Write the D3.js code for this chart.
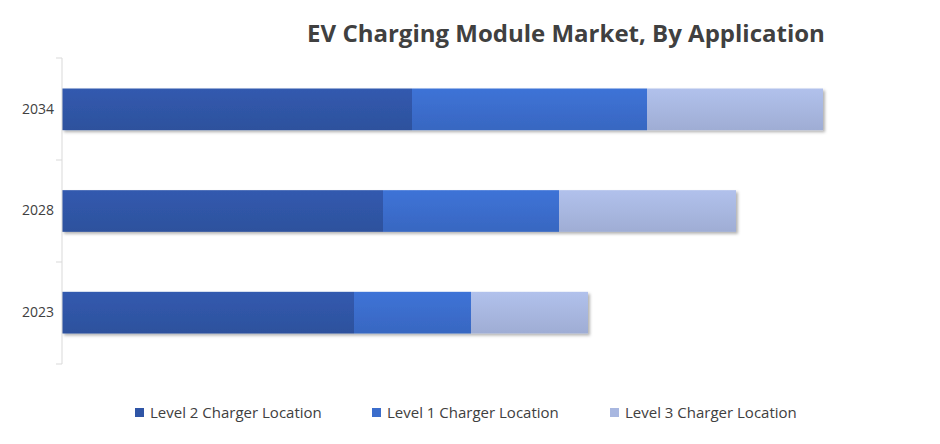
<!DOCTYPE html>
<html><head><meta charset="utf-8">
<script src="https://cdn.jsdelivr.net/npm/d3@7"></script>
<style>body{margin:0;background:#fff}</style>
</head><body>
<svg id="c" width="940" height="444"></svg>
<script>
const categories = ["2034", "2028", "2023"];
const seriesNames = ["Level 2 Charger Location", "Level 1 Charger Location", "Level 3 Charger Location"];
const level2 = [350, 321, 292];
const level1 = [235, 176, 117];
const level3 = [176, 177, 117];
const colors = ["#2f55a6", "#3b6dcc", "#a8b7e0"];

const svg = d3.select("#c");
const defs = svg.append("defs");
const f = defs.append("filter").attr("id","sh").attr("x","-5%").attr("y","-20%").attr("width","110%").attr("height","150%");
f.append("feDropShadow").attr("dx",2).attr("dy",2).attr("stdDeviation",1.5).attr("flood-color","#000").attr("flood-opacity",0.3);
colors.forEach((c,i)=>{
  const g = defs.append("linearGradient").attr("id","g"+i).attr("x1",0).attr("y1",0).attr("x2",0).attr("y2",1);
  g.append("stop").attr("offset","0%").attr("stop-color",d3.color(c).brighter(0.15));
  g.append("stop").attr("offset","100%").attr("stop-color",d3.color(c).darker(0.15));
});

const x = d3.scaleLinear().domain([0, 880]).range([62, 942]);
const y = d3.scaleBand().domain(categories).range([58, 364]).paddingInner(0.59).paddingOuter(0.3);

svg.append("text").attr("x",566).attr("y",42).attr("text-anchor","middle")
  .attr("font-family","Open Sans, sans-serif").attr("font-weight","bold").attr("font-size",24)
  .attr("fill","#404040").text("EV Charging Module Market, By Application");

const data = categories.map((c,i)=>({cat:c, v:[level2[i], level1[i], level3[i]]}));
data.forEach(d=>{
  const g = svg.append("g").attr("filter","url(#sh)");
  let acc = 0;
  d.v.forEach((v,j)=>{
    g.append("rect").attr("x",x(acc)).attr("width",x(acc+v)-x(acc))
      .attr("y",y(d.cat)).attr("height",y.bandwidth()).attr("fill",`url(#g${j})`);
    acc += v;
  });
});

const ax = svg.append("g").attr("transform","translate(62,0)")
  .call(d3.axisLeft(y).tickSize(0).tickPadding(8));
ax.select(".domain").remove();
ax.selectAll("text").attr("font-family","Open Sans, sans-serif").attr("font-size",14).attr("fill","#404040");
svg.append("line").attr("x1",62).attr("x2",62).attr("y1",58).attr("y2",364).attr("stroke","#d9d9d9");
const step = (364-58)/3;
for(let i=0;i<=3;i++) svg.append("line").attr("x1",56).attr("x2",62).attr("y1",58+i*step).attr("y2",58+i*step).attr("stroke","#d9d9d9");

const lx = [135, 372, 610];
seriesNames.forEach((n,i)=>{
  svg.append("rect").attr("x",lx[i]).attr("y",408).attr("width",9).attr("height",9).attr("fill",colors[i]);
  svg.append("text").attr("x",lx[i]+15).attr("y",418).attr("font-family","Open Sans, sans-serif")
    .attr("font-size",15).attr("fill","#404040").text(n);
});
</script>
</body></html>
